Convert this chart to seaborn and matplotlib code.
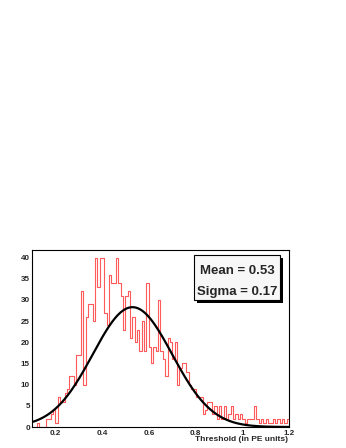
import numpy as np
import pandas as pd
import matplotlib
matplotlib.use("Agg")
import matplotlib.pyplot as plt
from matplotlib.patches import Rectangle
from matplotlib.ticker import MultipleLocator
import seaborn as sns

# --- data ---
BIN_LO = 0.10
BIN_HI = 1.20
COUNTS = [
    0, 0, 1, 0, 0, 0, 2, 2, 3, 4,          # 0.10 - 0.19
    1, 7, 6, 6, 8, 9, 12, 12, 10, 17,      # 0.20 - 0.29
    17, 32, 10, 26, 29, 29, 25, 40, 33, 40,  # 0.30 - 0.39
    40, 27, 24, 36, 34, 34, 40, 34, 31, 23,  # 0.40 - 0.49
    31, 32, 21, 26, 20, 23, 18, 25, 18, 34,  # 0.50 - 0.59
    19, 15, 19, 18, 30, 18, 16, 12, 21, 20,  # 0.60 - 0.69
    16, 20, 10, 14, 15, 15, 13, 10, 9, 9,   # 0.70 - 0.79
    7, 7, 7, 3, 4, 6, 6, 3, 5, 2,          # 0.80 - 0.89
    5, 2, 5, 2, 3, 5, 2, 3, 2, 3,          # 0.90 - 0.99
    2, 1, 2, 2, 2, 5, 2, 1, 2, 1,          # 1.00 - 1.09
    2, 1, 1, 2, 1, 2, 1, 2, 1, 2,          # 1.10 - 1.19
]

# gaussian fit shown in the stats box
MEAN = 0.53
SIGMA = 0.17
AMPL = 28.3

XTICKS = [0.2, 0.4, 0.6, 0.8, 1.0, 1.2]
XTICKLABELS = ["0.2", "0.4", "0.6", "0.8", "1", "1.2"]
YTICKS = [0, 5, 10, 15, 20, 25, 30, 35, 40]
XLABEL = "Threshold (in PE units)"

sns.set_style("white")
plt.rcParams["font.family"] = ["Liberation Sans", "DejaVu Sans"]

W, H = 346, 448
fig = plt.figure(figsize=(W / 100, H / 100), dpi=100)
fig.patch.set_facecolor("white")

# axes box in pixels: x 32-289, y 250-427
ax = fig.add_axes([32 / W, 1 - 427 / H, (289 - 32) / W, (427 - 250) / H])

nbins = len(COUNTS)
bw = (BIN_HI - BIN_LO) / nbins
hist_df = pd.DataFrame({"x": BIN_LO + bw * (np.arange(nbins) + 0.5), "n": COUNTS})
sns.histplot(data=hist_df, x="x", weights="n", bins=nbins,
             binrange=(BIN_LO, BIN_HI), element="step",
             fill=False, color="#ff5a5a", linewidth=0.8, ax=ax)

xs = np.linspace(BIN_LO, BIN_HI, 400)
ys = AMPL * np.exp(-0.5 * ((xs - MEAN) / SIGMA) ** 2)
sns.lineplot(x=xs, y=ys, color="black", linewidth=1.6, ax=ax)

ax.set_xlim(BIN_LO, BIN_HI)
ax.set_ylim(0, 41.8)
ax.set_xticks(XTICKS)
ax.set_xticklabels(XTICKLABELS)
ax.set_yticks(YTICKS)
ax.set_yticklabels([str(v) for v in YTICKS])
ax.xaxis.set_minor_locator(MultipleLocator(0.05))
ax.yaxis.set_minor_locator(MultipleLocator(1))
ax.set_ylabel("")
ax.set_xlabel("")

for sp in ax.spines.values():
    sp.set_color("black")
    sp.set_linewidth(0.8)

ax.tick_params(axis="both", which="both", direction="in", color="#444444",
               width=0.6, labelsize=5.8)
ax.tick_params(axis="x", which="major", length=4, pad=2)
ax.tick_params(axis="x", which="minor", length=2)
ax.tick_params(axis="y", which="major", length=5.5, pad=1.5)
ax.tick_params(axis="y", which="minor", length=2.8)
for lab in ax.get_xticklabels() + ax.get_yticklabels():
    lab.set_fontweight("bold")

fig.text(288 / W, 1 - 439 / H, XLABEL, ha="right", va="center",
         fontsize=6, fontweight="bold")

# stats box with shadow
bx0, bx1, by0, by1 = 194, 280, 255, 300
fig.add_artist(Rectangle(((bx0 + 3) / W, 1 - (by1 + 3) / H), (bx1 - bx0) / W,
                         (by1 - by0) / H, transform=fig.transFigure,
                         facecolor="black", edgecolor="none", zorder=5))
fig.add_artist(Rectangle((bx0 / W, 1 - by1 / H), (bx1 - bx0) / W,
                         (by1 - by0) / H, transform=fig.transFigure,
                         facecolor="#f7f7f7", edgecolor="black", linewidth=0.8,
                         zorder=6))
cx = (bx0 + bx1) / 2 / W
fig.text(cx, 1 - 271.5 / H, f"Mean = {MEAN:.2f}", ha="center", va="center",
         fontsize=9.5, fontweight="bold", zorder=7)
fig.text(cx, 1 - 291.5 / H, f"Sigma = {SIGMA:.2f}", ha="center", va="center",
         fontsize=9.5, fontweight="bold", zorder=7)

fig.savefig("out.png", dpi=100, facecolor="white")
